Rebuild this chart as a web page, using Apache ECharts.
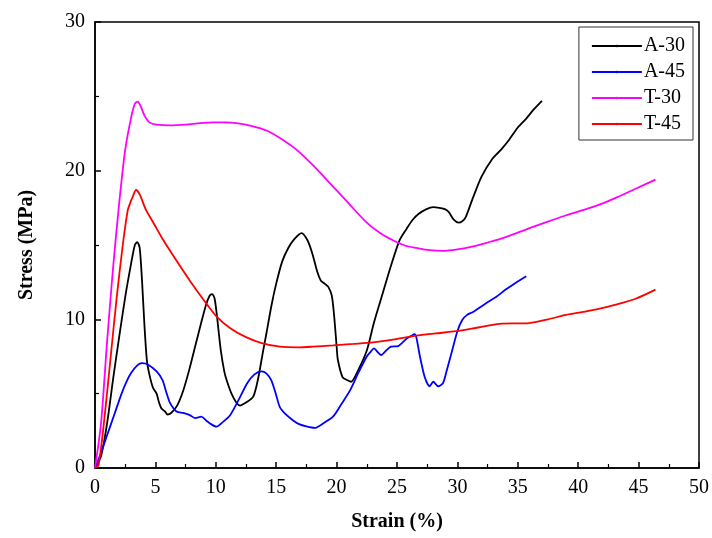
<!DOCTYPE html>
<html>
<head>
<meta charset="utf-8">
<script src="https://cdn.jsdelivr.net/npm/echarts@6/dist/echarts.min.js"></script>
<style>
  html, body { margin: 0; padding: 0; background: #fff; }
  #chart { width: 712px; height: 538px; }
</style>
</head>
<body>
<div id="chart"></div>
<script>
// strain (%) / stress (MPa) pairs
const seriesNames = ['A-30', 'A-45', 'T-30', 'T-45'];
const colors = ['#000000', '#0000ff', '#ff00ff', '#ff0000'];

const a30 = [[0,0],[0.5,0.8],[1,3],[1.5,6],[2,8.8],[2.5,11.5],[3,13.8],[3.3,15],[3.5,15.2],[3.7,14.8],[3.9,12.5],[4.1,9.5],[4.3,7.2],[4.5,6.3],[4.8,5.4],[5.1,5.0],[5.3,4.4],[5.5,4.0],[5.8,3.8],[6.0,3.6],[6.3,3.7],[6.8,4.2],[7.3,5.2],[7.8,6.6],[8.3,8.2],[8.8,9.8],[9.2,11.0],[9.5,11.6],[9.7,11.7],[9.9,11.4],[10.1,10.2],[10.4,8.0],[10.7,6.5],[10.9,5.9],[11.3,5.0],[11.7,4.4],[12.0,4.2],[12.5,4.4],[13.1,4.8],[13.5,6.0],[13.9,7.8],[14.2,9.1],[14.6,10.9],[15.0,12.4],[15.5,13.9],[16.0,14.8],[16.5,15.4],[17.1,15.8],[17.6,15.3],[18.0,14.4],[18.4,13.2],[18.7,12.6],[19.0,12.4],[19.3,12.2],[19.6,11.6],[19.8,10.2],[20.0,8.2],[20.1,7.3],[20.5,6.1],[20.9,5.9],[21.2,5.8],[21.8,6.6],[22.5,7.9],[23.1,9.8],[23.8,11.7],[24.5,13.6],[25.2,15.3],[25.8,16.1],[26.3,16.7],[26.8,17.1],[27.4,17.4],[28.0,17.55],[28.5,17.5],[29.0,17.4],[29.3,17.2],[29.7,16.7],[30.1,16.5],[30.4,16.6],[30.7,16.9],[31.3,18.2],[32.0,19.6],[32.9,20.8],[33.6,21.4],[34.3,22.1],[35.0,22.9],[35.7,23.5],[36.3,24.1],[37.0,24.7]];

const a45 = [[0,0],[0.4,0.8],[1,2.2],[1.6,3.6],[2.2,5.0],[2.6,5.8],[3.0,6.4],[3.5,6.9],[3.9,7.05],[4.4,6.95],[5.1,6.5],[5.6,5.9],[5.9,5.1],[6.2,4.4],[6.75,3.8],[7.3,3.7],[7.85,3.56],[8.3,3.35],[8.8,3.45],[9.2,3.2],[9.6,2.95],[10.05,2.78],[10.6,3.1],[11.2,3.57],[11.9,4.6],[12.6,5.7],[13.2,6.3],[13.8,6.5],[14.2,6.35],[14.6,5.9],[15.0,4.9],[15.3,4.1],[15.8,3.6],[16.4,3.2],[16.9,2.95],[17.5,2.8],[18.2,2.7],[18.8,2.95],[19.7,3.45],[20.4,4.3],[21.1,5.2],[21.8,6.4],[22.5,7.5],[22.8,7.8],[23.1,8.05],[23.4,7.8],[23.7,7.6],[24.1,7.9],[24.5,8.16],[25.1,8.2],[25.8,8.7],[26.2,8.9],[26.45,9.0],[26.6,8.8],[26.9,7.5],[27.3,6.1],[27.7,5.5],[28.0,5.8],[28.4,5.5],[28.8,5.7],[29.1,6.5],[29.5,7.7],[30.0,9.2],[30.4,9.95],[30.8,10.3],[31.3,10.5],[32.4,11.1],[33.2,11.5],[34.0,12.0],[34.9,12.5],[35.7,12.9]];

const t30 = [[0,0],[0.5,3],[1,8.5],[1.5,13.5],[2,17.8],[2.5,21.4],[3,23.6],[3.3,24.5],[3.55,24.65],[3.8,24.3],[4.1,23.7],[4.5,23.25],[5.1,23.1],[6.2,23.05],[7.5,23.1],[8.7,23.2],[9.8,23.25],[10.8,23.25],[11.7,23.2],[13.0,23.0],[14.2,22.7],[15.5,22.1],[16.7,21.4],[18.0,20.4],[19.4,19.2],[21.0,17.8],[22.5,16.5],[23.6,15.8],[24.7,15.3],[25.7,14.95],[26.6,14.8],[27.7,14.65],[28.8,14.6],[30.0,14.7],[31.3,14.9],[32.4,15.15],[33.5,15.4],[34.9,15.8],[36.2,16.2],[37.6,16.6],[39.0,17.0],[40.4,17.35],[41.7,17.7],[43.2,18.2],[44.8,18.8],[46.4,19.4]];

const t45 = [[0,0],[0.3,0.2],[0.8,3.5],[1.3,7.5],[1.8,11.5],[2.3,15],[2.7,17.3],[2.9,17.8],[3.1,18.2],[3.4,18.7],[3.7,18.4],[4.2,17.4],[4.9,16.4],[5.6,15.4],[6.7,14.0],[7.85,12.6],[9.0,11.3],[10.05,10.2],[11.2,9.4],[12.5,8.8],[13.8,8.4],[15.3,8.16],[16.9,8.12],[18.0,8.16],[19.7,8.25],[21.4,8.35],[23.0,8.45],[24.8,8.65],[26.6,8.9],[28.2,9.05],[29.9,9.2],[31.7,9.45],[33.5,9.7],[35.95,9.75],[37.5,10.0],[39.0,10.3],[40.4,10.5],[41.7,10.7],[43.2,11.0],[44.8,11.4],[46.4,12.0]];

const allData = [a30, a45, t30, t45];

const font = 'Liberation Serif, Times New Roman, serif';
const chart = echarts.init(document.getElementById('chart'));

const axisCommon = {
  axisLine: { show: true, onZero: false, lineStyle: { color: '#000', width: 1.5 } },
  axisTick: { show: true, inside: true, length: 6, lineStyle: { color: '#000', width: 1.5 } },
  minorTick: { show: true, splitNumber: 2, length: 4, lineStyle: { color: '#000', width: 1.2 } },
  splitLine: { show: false },
  axisLabel: { color: '#000', fontFamily: font, fontSize: 20, margin: 10 },
  nameTextStyle: { color: '#000', fontFamily: font, fontSize: 20, fontWeight: 'bold' },
};

const option = {
  animation: false,
  backgroundColor: '#fff',
  grid: {
    left: 95, right: 12, top: 22, bottom: 70,
    show: true, borderColor: '#000', borderWidth: 1.5,
  },
  legend: {
    data: seriesNames,
    orient: 'vertical',
    right: 19,
    top: 27,
    itemWidth: 50,
    itemHeight: 3,
    itemGap: 6,
    padding: [9, 8, 6, 12],
    borderColor: '#333',
    borderWidth: 1,
    textStyle: { color: '#000', fontFamily: font, fontSize: 20, padding: [0, 0, 0, -3] },
  },
  xAxis: Object.assign({}, axisCommon, {
    type: 'value',
    min: 0, max: 50, interval: 5,
    name: 'Strain (%)',
    nameLocation: 'middle',
    nameGap: 44,
  }),
  yAxis: Object.assign({}, axisCommon, {
    type: 'value',
    min: 0, max: 30, interval: 10,
    name: 'Stress (MPa)',
    nameLocation: 'middle',
    nameGap: 58,
  }),
  series: allData.map((d, i) => ({
    name: seriesNames[i],
    type: 'line',
    data: d,
    smooth: 0.25,
    showSymbol: false,
    symbol: 'none',
    lineStyle: { color: colors[i], width: 1.8 },
    itemStyle: { color: colors[i] },
  })),
};

chart.setOption(option);
</script>
</body>
</html>
